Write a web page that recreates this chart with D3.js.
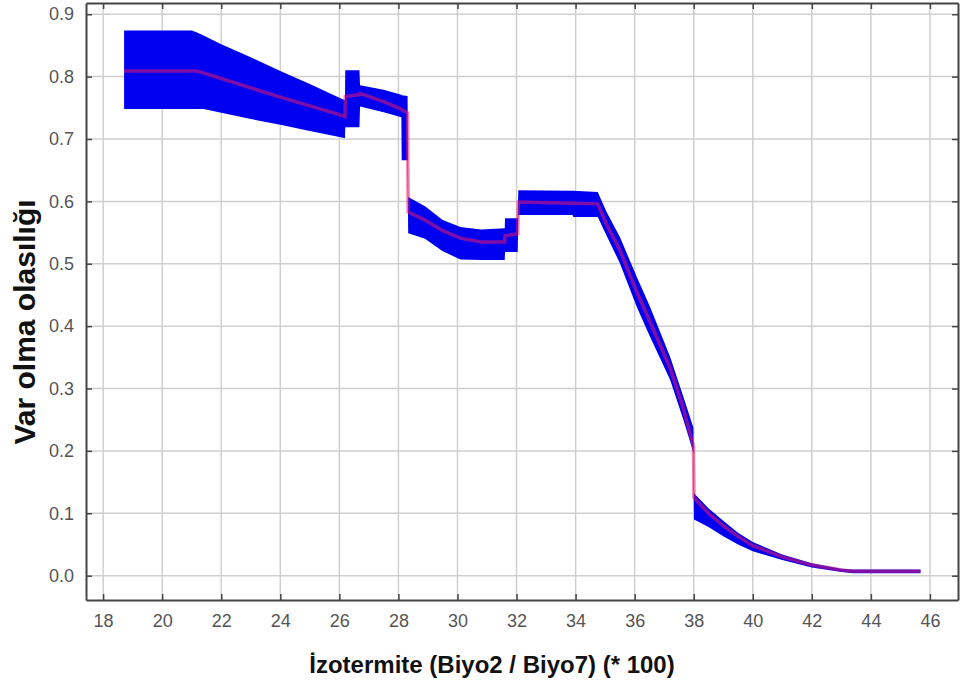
<!DOCTYPE html>
<html>
<head>
<meta charset="utf-8">
<script src="https://cdn.jsdelivr.net/npm/d3@7"></script>
<style>
  body { margin: 0; background: #fff; }
  svg { display: block; font-family: Arial, "Liberation Sans", sans-serif; }
</style>
</head>
<body>
<div id="chart"></div>
<script>
// response curve: x = izotermite, mean and mean +/- sd band
const xVals = [18.71, 21.0, 21.16, 21.4, 22, 23, 24, 25, 26, 26.19,
  26.2, 26.68, 26.7, 27.5, 28.1, 28.11, 28.31, 28.33, 28.9, 29.5,
  30.1, 30.8, 31.6, 31.61, 32.04, 32.06, 33.9, 33.92, 34.75, 35.05,
  35.5, 36.07, 36.52, 37.2, 37.65, 37.99, 38.01, 38.5, 39, 39.5,
  40, 41, 42, 43, 43.4, 45.68];
const meanVals = [0.809, 0.809, 0.809, 0.806, 0.797, 0.782, 0.767, 0.753, 0.739, 0.736,
  0.768, 0.771, 0.773, 0.760, 0.748, 0.747, 0.742, 0.583, 0.570, 0.553,
  0.541, 0.535, 0.535, 0.545, 0.548, 0.599, 0.597, 0.597, 0.596, 0.563,
  0.522, 0.455, 0.407, 0.333, 0.268, 0.208, 0.125, 0.100, 0.080, 0.063,
  0.048, 0.030, 0.017, 0.009, 0.007, 0.007];
const upperVals = [0.874, 0.874, 0.871, 0.866, 0.852, 0.831, 0.809, 0.788, 0.766, 0.762,
  0.810, 0.810, 0.786, 0.779, 0.771, 0.770, 0.769, 0.607, 0.592, 0.570,
  0.559, 0.555, 0.557, 0.573, 0.573, 0.618, 0.617, 0.617, 0.615, 0.583,
  0.543, 0.479, 0.431, 0.351, 0.287, 0.237, 0.132, 0.108, 0.088, 0.069,
  0.054, 0.034, 0.020, 0.011, 0.010, 0.010];
const lowerVals = [0.748, 0.748, 0.748, 0.748, 0.742, 0.732, 0.723, 0.713, 0.703, 0.701,
  0.719, 0.719, 0.752, 0.743, 0.735, 0.666, 0.666, 0.549, 0.540, 0.520,
  0.507, 0.506, 0.506, 0.519, 0.519, 0.578, 0.578, 0.575, 0.575, 0.545,
  0.501, 0.431, 0.383, 0.314, 0.250, 0.197, 0.090, 0.078, 0.063, 0.050,
  0.039, 0.025, 0.013, 0.006, 0.004, 0.004];

const xTicks = d3.range(18, 47, 2);
const yTicks = d3.range(0, 0.91, 0.1);

const width = 961, height = 686;
const margin = { top: 3, right: 3, bottom: 86, left: 86 };

const svg = d3.select('#chart').append('svg')
  .attr('width', width)
  .attr('height', height);

const x = d3.scaleLinear().domain([17.42, 46.95]).range([margin.left, width - margin.right]);
const y = d3.scaleLinear().domain([-0.039, 0.918]).range([height - margin.bottom, margin.top]);

const data = xVals.map((v, i) => ({ x: v, m: meanVals[i], hi: upperVals[i], lo: lowerVals[i] }));

// grid
svg.append('g').selectAll('line').data(xTicks).enter().append('line')
  .attr('x1', d => x(d)).attr('x2', d => x(d))
  .attr('y1', margin.top).attr('y2', height - margin.bottom)
  .attr('stroke', '#cfcfcf').attr('stroke-width', 1.5);
svg.append('g').selectAll('line').data(yTicks).enter().append('line')
  .attr('x1', margin.left).attr('x2', width - margin.right)
  .attr('y1', d => y(d)).attr('y2', d => y(d))
  .attr('stroke', '#cfcfcf').attr('stroke-width', 1.5);

// band
const band = d3.area()
  .x(d => x(d.x))
  .y0(d => y(d.lo))
  .y1(d => y(d.hi));
svg.append('path').datum(data)
  .attr('d', band)
  .attr('fill', '#0000f0');

// mean line
const line = d3.line()
  .x(d => x(d.x))
  .y(d => y(d.m));
svg.append('path').datum(data)
  .attr('d', line)
  .attr('fill', 'none')
  .attr('stroke', '#e8186e')
  .attr('stroke-opacity', 0.55)
  .attr('stroke-width', 3.5);

// axes with inward ticks on every side
const tickColor = '#444';
const axBottom = svg.append('g')
  .attr('transform', 'translate(0,' + (height - margin.bottom) + ')')
  .call(d3.axisBottom(x).tickValues(xTicks).tickSizeInner(-6).tickSizeOuter(0).tickPadding(14));
const axLeft = svg.append('g')
  .attr('transform', 'translate(' + margin.left + ',0)')
  .call(d3.axisLeft(y).tickValues(yTicks).tickFormat(d3.format('.1f')).tickSizeInner(-6).tickSizeOuter(0).tickPadding(12));
const axTop = svg.append('g')
  .attr('transform', 'translate(0,' + margin.top + ')')
  .call(d3.axisTop(x).tickValues(xTicks).tickFormat('').tickSizeInner(-6).tickSizeOuter(0));
const axRight = svg.append('g')
  .attr('transform', 'translate(' + (width - margin.right) + ',0)')
  .call(d3.axisRight(y).tickValues(yTicks).tickFormat('').tickSizeInner(-6).tickSizeOuter(0));

[axBottom, axLeft, axTop, axRight].forEach(g => {
  g.select('.domain').attr('stroke', tickColor).attr('stroke-width', 2);
  g.selectAll('.tick line').attr('stroke', tickColor).attr('stroke-width', 1.5);
  g.selectAll('.tick text').attr('fill', '#555').style('font-size', '18px');
});

// axis titles
svg.append('text')
  .attr('x', 492).attr('y', 673)
  .attr('text-anchor', 'middle')
  .style('font-size', '24px').style('font-weight', 'bold')
  .attr('fill', '#111')
  .text('İzotermite (Biyo2 / Biyo7) (* 100)');

svg.append('text')
  .attr('transform', 'translate(35,' + 322 + ') rotate(-90)')
  .attr('text-anchor', 'middle')
  .style('font-size', '30px').style('font-weight', 'bold')
  .attr('fill', '#111')
  .text('Var olma olasılığı');
</script>
</body>
</html>
